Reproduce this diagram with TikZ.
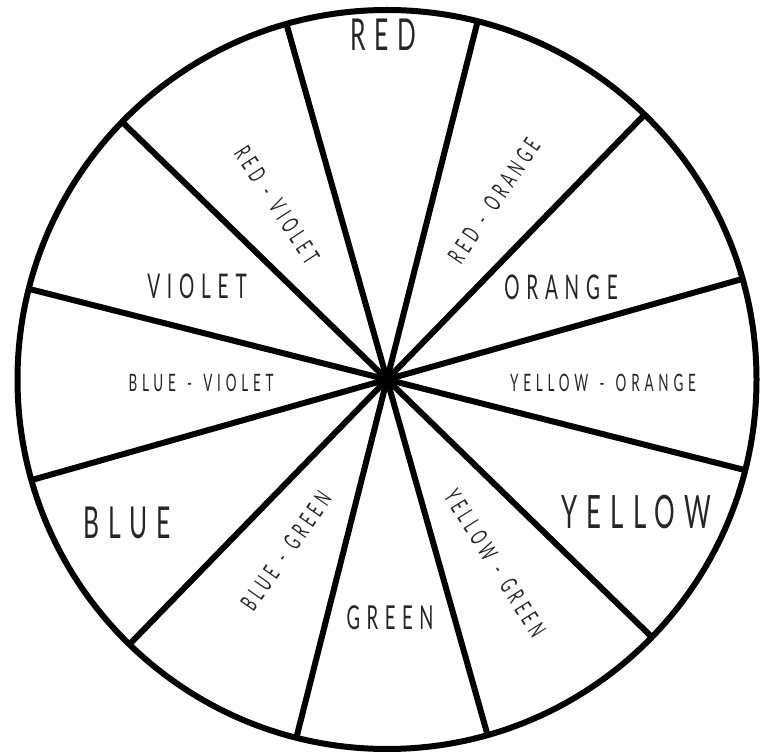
\documentclass[tikz,border=0pt]{standalone}
\usepackage{fontspec}
\usetikzlibrary{calc}
\newfontfamily\wheelfont[FakeStretch=0.56,LetterSpace=20]{Lato}
\newcommand{\dashsep}{\hspace{3pt} - \hspace{3pt}}
\begin{document}
\begin{tikzpicture}[x=1pt,y=1pt,
  rim/.style={line width=6pt,black},
  spoke/.style={line width=6pt,black},
  lbl/.style={inner sep=0pt,text=black!85,font=\wheelfont},
  big/.style={lbl,font=\wheelfont\fontsize{44}{44}\selectfont},
  mid/.style={lbl,font=\wheelfont\fontsize{34}{34}\selectfont},
  small/.style={lbl,font=\wheelfont\fontsize{24}{24}\selectfont}]
\useasboundingbox (0,0) rectangle (763,755);
\coordinate (c) at (387,375.5);
\draw[rim] (c) circle (369.5);
\foreach \a [count=\i] in {15.8,45.8,75.8,105.8,135.8,165.8,195.8,225.8,255.8,285.8,315.8,345.8}{
  \coordinate (r\i) at ($(c)+(\a:369.5)$);
  \draw[spoke] (c) -- (r\i);
}
\fill (c) circle (11);
\node[big] (red) at (383,720) {RED};
\node[small,rotate=56] (redorange) at (494,554) {RED\dashsep ORANGE};
\node[mid] (orange) at (561,468) {ORANGE};
\node[small] (yelloworange) at (603,372) {YELLOW\dashsep ORANGE};
\node[big,font=\wheelfont\fontsize{46}{46}\selectfont] (yellow) at (636,243) {YELLOW};
\node[small,rotate=-58] (yellowgreen) at (495,192) {YELLOW\dashsep GREEN};
\node[mid,font=\wheelfont\fontsize{33}{33}\selectfont] (green) at (390,137) {GREEN};
\node[small,rotate=55] (bluegreen) at (286,204) {BLUE\dashsep GREEN};
\node[big] (blue) at (127,232) {BLUE};
\node[small] (blueviolet) at (201,372) {BLUE\dashsep VIOLET};
\node[mid] (violet) at (197,469) {VIOLET};
\node[small,rotate=-57] (redviolet) at (277,550) {RED\dashsep VIOLET};
\end{tikzpicture}
\end{document}
